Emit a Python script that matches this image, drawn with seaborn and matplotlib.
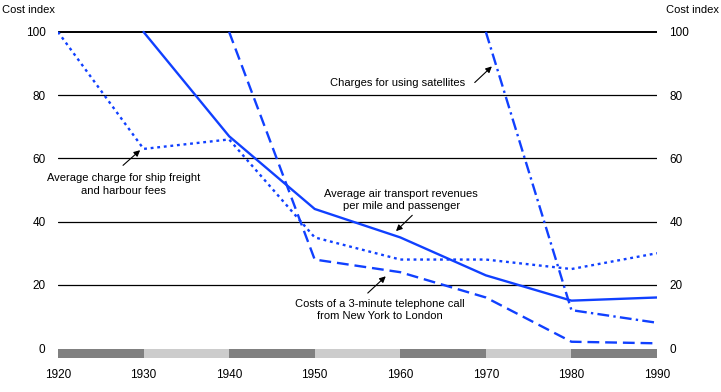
import matplotlib
matplotlib.use("Agg")
import matplotlib.pyplot as plt
import seaborn as sns
import pandas as pd

# ---- data ----
ship_years = [1920, 1930, 1940, 1950, 1960, 1970, 1980, 1990]
ship_vals = [100, 63, 66, 35, 28, 28, 25, 30]
air_years = [1930, 1940, 1950, 1960, 1970, 1980, 1990]
air_vals = [100, 67, 44, 35, 23, 15, 16]
tel_years = [1940, 1950, 1960, 1970, 1980, 1990]
tel_vals = [100, 28, 24, 16, 2, 1.5]
sat_years = [1970, 1980, 1990]
sat_vals = [100, 12, 8]
decades = [1920, 1930, 1940, 1950, 1960, 1970, 1980]
x_ticks = [1920, 1930, 1940, 1950, 1960, 1970, 1980, 1990]
y_ticks = [0, 20, 40, 60, 80, 100]

sns.set_theme(style="white", rc={'text.color': 'black', 'xtick.color': 'black',
                                 'ytick.color': 'black'})
plt.rcParams['font.family'] = ['Liberation Sans', 'DejaVu Sans']

fig = plt.figure(figsize=(7.21, 3.92), dpi=100)
ax = fig.add_axes([58/721, 1-360.7/392, (657-58)/721, (360.7-28.8)/392])

blue = '#1040ff'
series = [
    (ship_years, ship_vals, (0, (1.2, 1.6))),
    (air_years, air_vals, '-'),
    (tel_years, tel_vals, (0, (5, 2.5))),
    (sat_years, sat_vals, (0, (5, 1.8, 1, 1.8))),
]
for yrs, vals, ls in series:
    df = pd.DataFrame({'year': yrs, 'value': vals})
    sns.lineplot(data=df, x='year', y='value', ax=ax, color=blue, lw=1.7,
                 linestyle=ls, zorder=3)

# gridlines (no line at 0)
for g in [20, 40, 60, 80, 100]:
    ax.axhline(g, color='black', lw=1.4 if g == 100 else 0.9, zorder=1)

# decade bars under zero
bar_colors = ['#808080' if i % 2 == 0 else '#cccccc' for i in range(len(decades))]
ax.bar(decades, [2.9]*len(decades), width=10, bottom=-3.2, align='edge',
       color=bar_colors, linewidth=0, zorder=2)

ax.set_xlim(1920, 1990)
ax.set_ylim(-4, 101)
ax.set_xticks(x_ticks)
ax.set_yticks(y_ticks)
ax.set_xlabel('')
ax.set_ylabel('')
for s in ax.spines.values():
    s.set_visible(False)
ax.tick_params(axis='x', length=0, pad=6, labelsize=8.5, labelcolor='black')
ax.tick_params(axis='y', length=0, pad=9, labelsize=8.5, labelright=True,
               labelcolor='black')

fig.text(2/721, 1-10/392, 'Cost index', fontsize=8, ha='left', va='center',
         color='black')
fig.text(719/721, 1-10/392, 'Cost index', fontsize=8, ha='right', va='center',
         color='black')

arrow = dict(arrowstyle='-|>', color='black', lw=0.8, mutation_scale=9,
             shrinkA=0, shrinkB=0)
ann_fs = 8
ax.text(1927.7, 51.8, 'Average charge for ship freight\nand harbour fees',
        ha='center', va='center', fontsize=ann_fs, linespacing=1.3, color='black')
ax.annotate('', xy=(1929.6, 62.6), xytext=(1927.6, 57.8), arrowprops=arrow)

ax.text(1959.7, 83.7, 'Charges for using satellites', ha='center', va='center',
        fontsize=ann_fs, color='black')
ax.annotate('', xy=(1970.7, 89.1), xytext=(1968.7, 84.0), arrowprops=arrow)

ax.text(1960.1, 46.8, 'Average air transport revenues\nper mile and passenger',
        ha='center', va='center', fontsize=ann_fs, linespacing=1.3, color='black')
ax.annotate('', xy=(1959.5, 37.0), xytext=(1961.4, 42.0), arrowprops=arrow)

ax.text(1957.6, 12.0, 'Costs of a 3-minute telephone call\nfrom New York to London',
        ha='center', va='center', fontsize=ann_fs, linespacing=1.3, color='black')
ax.annotate('', xy=(1958.3, 22.7), xytext=(1956.2, 17.4), arrowprops=arrow)

fig.savefig('out.png', dpi=100)
